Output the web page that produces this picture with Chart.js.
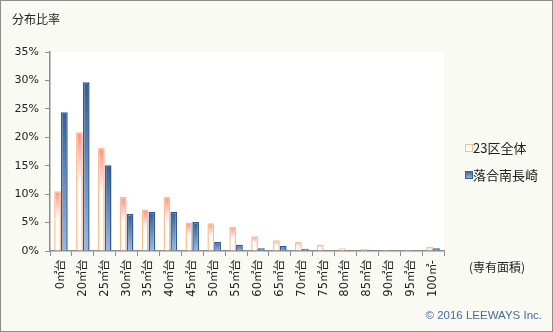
<!DOCTYPE html>
<html>
<head>
<meta charset="utf-8">
<script src="https://cdn.jsdelivr.net/npm/chart.js@4/dist/chart.umd.min.js"></script>
<style>
  /* CJK glyphs (including the square-metre sign) come from the Japanese face */
  @font-face {
    font-family: 'JpMix';
    src: local('Noto Sans CJK JP'), local('Noto Sans CJK JP Regular'), local('NotoSansCJKjp-Regular'), local('NotoSansCJKJP-Regular');
    unicode-range: U+3000-33FF, U+4E00-9FFF, U+FF00-FFEF;
  }
  html, body { margin: 0; padding: 0; background: #f8faf3; }
  #wrap { width: 553px; height: 332px; }
</style>
</head>
<body>
<div id="wrap"><canvas id="c" width="553" height="332"></canvas></div>
<script>
// Floor-area bands
const categories = ['0㎡台','20㎡台','25㎡台','30㎡台','35㎡台','40㎡台','45㎡台','50㎡台','55㎡台','60㎡台','65㎡台','70㎡台','75㎡台','80㎡台','85㎡台','90㎡台','95㎡台','100㎡-'];
// Share (%) across all 23 wards
const wardShare = [10.5, 20.9, 18.1, 9.5, 7.3, 9.5, 5.0, 4.9, 4.2, 2.6, 1.9, 1.6, 1.1, 0.5, 0.35, 0.2, 0.2, 0.7];
// Share (%) in Ochiai-Minaminagasaki
const localShare = [24.4, 29.7, 15.1, 6.5, 6.9, 6.9, 5.1, 1.6, 1.1, 0.5, 0.9, 0.4, 0, 0, 0.2, 0, 0, 0.5];
const seriesNames = ['23区全体', '落合南長崎'];
const yTicks = [0, 5, 10, 15, 20, 25, 30, 35];

const FONT = '"DejaVu Sans", "Noto Sans CJK JP", sans-serif';
const XFONT = 'JpMix, "DejaVu Sans", "Noto Sans CJK JP", sans-serif';
const JP = '"Noto Sans CJK JP", "DejaVu Sans", sans-serif';

function barGradient(ctx) {
  const chart = ctx.chart;
  if (!chart.chartArea) return null;
  const v = ctx.raw || 0;
  const yTop = chart.scales.y.getPixelForValue(v);
  const yBase = chart.scales.y.getPixelForValue(0);
  if (yBase - yTop < 1) return null;
  return chart.ctx.createLinearGradient(0, yTop, 0, yBase);
}

function wardFill(ctx) {
  const g = barGradient(ctx);
  if (!g) return '#ffffff';
  g.addColorStop(0, '#ff8e8e');
  g.addColorStop(0.45, '#ffffff');
  g.addColorStop(1, '#ffffff');
  return g;
}
function localFill(ctx) {
  const g = barGradient(ctx);
  if (!g) return '#6f93c4';
  g.addColorStop(0, '#345d94');
  g.addColorStop(1, '#9ab9e1');
  return g;
}

// Page frame, plot background, title, legend and notes
const decor = {
  id: 'decor',
  beforeDraw(chart) {
    const c = chart.ctx, a = chart.chartArea;
    c.save();
    c.fillStyle = '#f8faf3';
    c.fillRect(0, 0, chart.width, chart.height);
    c.fillStyle = '#ffffff';
    c.fillRect(a.left, a.top, a.right - a.left, a.bottom - a.top);
    c.restore();
  },
  afterDraw(chart) {
    const c = chart.ctx;
    c.save();
    c.fillStyle = '#222';
    c.font = '12px ' + JP;
    c.textBaseline = 'middle';
    c.textAlign = 'left';
    c.fillText('分布比率', 12, 19);

    // legend
    const lx = 465;
    const items = [
      { y: 148, fill: '#ffffff', stroke: '#ffbf8a', name: seriesNames[0] },
      { y: 175, fill: null, stroke: '#33619b', name: seriesNames[1] }
    ];
    items.forEach(it => {
      if (it.fill) {
        c.fillStyle = it.fill;
      } else {
        const g = c.createLinearGradient(0, it.y - 4, 0, it.y + 4);
        g.addColorStop(0, '#3a6399');
        g.addColorStop(1, '#9ab9e1');
        c.fillStyle = g;
      }
      c.fillRect(lx, it.y - 4, 8, 8);
      c.strokeStyle = it.stroke;
      c.lineWidth = 1;
      c.strokeRect(lx + 0.5, it.y - 3.5, 7, 7);
      c.fillStyle = '#222';
      c.font = '13px ' + JP;
      c.fillText(it.name, lx + 8, it.y);
    });

    c.font = '12px ' + JP;
    c.fillStyle = '#222';
    c.fillText('(専有面積)', 469, 267);

    c.font = '11.5px "Liberation Sans", sans-serif';
    c.fillStyle = '#4a6b9d';
    c.textAlign = 'right';
    c.fillText('© 2016 LEEWAYS Inc.', 542, 316);

    c.strokeStyle = '#8c8c8c';
    c.lineWidth = 1;
    c.strokeRect(0.5, 0.5, chart.width - 1, chart.height - 1);
    c.restore();
  }
};

function draw() {
  new Chart(document.getElementById('c'), {
    type: 'bar',
    data: {
      labels: categories,
      datasets: [
        {
          label: seriesNames[0],
          data: wardShare,
          backgroundColor: wardFill,
          borderColor: '#ffbf8a',
          borderWidth: 1.5,
          borderSkipped: 'start',
          categoryPercentage: 0.62,
          barPercentage: 1.0
        },
        {
          label: seriesNames[1],
          data: localShare,
          backgroundColor: localFill,
          borderColor: '#2f5a93',
          borderWidth: 1.5,
          borderSkipped: 'start',
          categoryPercentage: 0.62,
          barPercentage: 1.0
        }
      ]
    },
    options: {
      responsive: false,
      animation: false,
      devicePixelRatio: 1,
      layout: { padding: { top: 52, right: 109, bottom: 0, left: 0 } },
      plugins: {
        legend: { display: false },
        title: { display: false },
        tooltip: { enabled: false }
      },
      scales: {
        x: {
          afterFit(s) { s.height = 81; },
          grid: { display: true, drawOnChartArea: false, offset: true, tickLength: 5, color: '#8c8c8c', lineWidth: 1 },
          border: { color: '#8c8c8c', width: 1.5 },
          ticks: {
            minRotation: 90, maxRotation: 90, autoSkip: false,
            padding: 4,
            color: '#222',
            font: { family: XFONT, size: 11.5 }
          }
        },
        y: {
          min: 0, max: 35,
          afterFit(s) { s.width = 50; },
          afterBuildTicks(s) { s.ticks = yTicks.map(v => ({ value: v })); },
          grid: { display: true, drawOnChartArea: false, tickLength: 5, color: '#8c8c8c', lineWidth: 1 },
          border: { color: '#8c8c8c', width: 1.5 },
          ticks: {
            padding: 6,
            color: '#222',
            font: { family: FONT, size: 11 },
            callback: v => v + '%'
          }
        }
      }
    },
    plugins: [decor]
  });
}

document.fonts.load('11px JpMix', '㎡台').then(draw, draw);
</script>
</body>
</html>
